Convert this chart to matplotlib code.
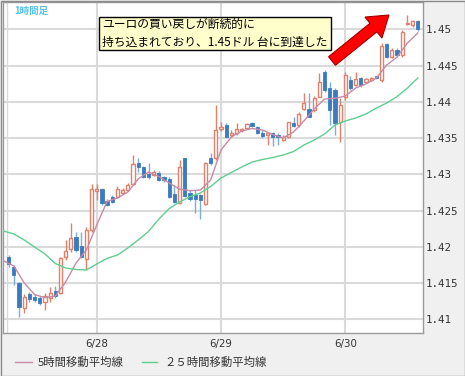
import numpy as np
import matplotlib
matplotlib.use("Agg")
import matplotlib.pyplot as plt
from matplotlib.patches import Rectangle, FancyArrow
from matplotlib.transforms import IdentityTransform
from matplotlib.lines import Line2D

# ---------------- data ----------------
# hourly candles, hour offset relative to 6/28 00:00
hour_start = -17
opens = [1.41864, 1.41726, 1.41505, 1.41160, 1.41349, 1.41308, 1.41298, 1.41243, 1.41298, 1.41390,
         1.41359, 1.41855, 1.41970, 1.42139, 1.42011, 1.41828, 1.42232,
         1.42770, 1.42793, 1.42636, 1.42691, 1.42691, 1.42738, 1.42783, 1.42866, 1.43160, 1.43097,
         1.43004, 1.42990, 1.43014, 1.42959, 1.42931, 1.42728, 1.42608, 1.43221, 1.42738, 1.42710,
         1.42715, 1.42586, 1.43221, 1.43221,
         1.43621, 1.43676, 1.43542, 1.43566, 1.43607, 1.43635, 1.43703, 1.43657, 1.43570, 1.43546,
         1.43566, 1.43542, 1.43473, 1.43510, 1.43703, 1.43680, 1.43896, 1.43896, 1.43887, 1.44070,
         1.44415, 1.44186, 1.44163, 1.43726,
         1.44066, 1.44301, 1.44232, 1.44324, 1.44277, 1.44301, 1.44356, 1.44301, 1.44793, 1.44622,
         1.44714, 1.44646, 1.45073, 1.45059, 1.45119]
highs = [1.41887, 1.41749, 1.41519, 1.41349, 1.41381, 1.41349, 1.41321, 1.41359, 1.41450, 1.41459,
         1.41855, 1.42094, 1.42332, 1.42208, 1.42208, 1.42269, 1.42866,
         1.42866, 1.42807, 1.42655, 1.42715, 1.42839, 1.42807, 1.42876, 1.43266, 1.43221, 1.43114,
         1.43160, 1.43059, 1.43050, 1.42977, 1.42959, 1.42852, 1.43197, 1.43229, 1.42783, 1.42783,
         1.42728, 1.43174, 1.43298, 1.43956,
         1.43726, 1.43703, 1.43611, 1.43703, 1.43635, 1.43703, 1.43721, 1.43666, 1.43611, 1.43576,
         1.43588, 1.43574, 1.43542, 1.43726, 1.43794, 1.43863, 1.44126, 1.44117, 1.44080, 1.44393,
         1.44439, 1.44277, 1.44190, 1.44052,
         1.44411, 1.44356, 1.44411, 1.44346, 1.44324, 1.44342, 1.44363, 1.44807, 1.44807, 1.44738,
         1.44738, 1.44990, 1.45197, 1.45128, 1.45128]
lows = [1.41721, 1.41473, 1.41036, 1.41087, 1.41243, 1.41239, 1.41197, 1.41128, 1.41243, 1.41290,
        1.41349, 1.41818, 1.41932, 1.41932, 1.41841, 1.41680, 1.42208,
        1.42646, 1.42577, 1.42563, 1.42608, 1.42669, 1.42728, 1.42774, 1.42852, 1.43036, 1.42945,
        1.42931, 1.42977, 1.42912, 1.42898, 1.42669, 1.42600, 1.42600, 1.42691, 1.42632, 1.42470,
        1.42379, 1.42577, 1.43128, 1.43197,
        1.43601, 1.43510, 1.43519, 1.43546, 1.43588, 1.43621, 1.43657, 1.43556, 1.43505, 1.43404,
        1.43390, 1.43404, 1.43459, 1.43497, 1.43657, 1.43657, 1.43887, 1.43786, 1.43859, 1.44066,
        1.44139, 1.43680, 1.43542, 1.43450,
        1.44025, 1.44163, 1.44218, 1.44208, 1.44259, 1.44287, 1.44314, 1.44277, 1.44600, 1.44600,
        1.44614, 1.44622, 1.45059, 1.45036, 1.44981]
closes = [1.41763, 1.41611, 1.41170, 1.41312, 1.41280, 1.41266, 1.41221, 1.41326, 1.41359, 1.41326,
          1.41841, 1.41946, 1.42125, 1.41956, 1.41855, 1.42232, 1.42793,
          1.42797, 1.42600, 1.42577, 1.42622, 1.42793, 1.42783, 1.42852, 1.43142, 1.43105, 1.42959,
          1.42967, 1.43032, 1.42921, 1.42921, 1.42683, 1.42618, 1.43097, 1.42701, 1.42655, 1.42663,
          1.42646, 1.43152, 1.43160, 1.43611,
          1.43657, 1.43519, 1.43574, 1.43621, 1.43618, 1.43694, 1.43670, 1.43566, 1.43532, 1.43570,
          1.43510, 1.43519, 1.43519, 1.43717, 1.43666, 1.43832, 1.43979, 1.43794, 1.44048, 1.44277,
          1.44163, 1.43887, 1.43703, 1.43956,
          1.44369, 1.44186, 1.44310, 1.44232, 1.44310, 1.44324, 1.44324, 1.44774, 1.44622, 1.44714,
          1.44646, 1.44967, 1.45091, 1.45119, 1.45000]

# moving averages, every 2 hours from hour -18
ma_start = -18
ma5 = [1.41808, 1.41735, 1.41501, 1.41342, 1.41298, 1.41321, 1.41514, 1.41777, 1.41956, 1.42301,
       1.42625, 1.42673, 1.42756, 1.42935, 1.43032, 1.42970, 1.42880, 1.42797, 1.42774, 1.42783,
       1.42921, 1.43335, 1.43514, 1.43597, 1.43632, 1.43611, 1.43549, 1.43501, 1.43583, 1.43735,
       1.43901, 1.44039, 1.44048, 1.44080, 1.44190, 1.44246, 1.44328, 1.44508, 1.44618, 1.44811,
       1.44949]
ma25 = [1.42218, 1.42177, 1.42094, 1.41997, 1.41901, 1.41770, 1.41708, 1.41687, 1.41680, 1.41763,
        1.41841, 1.41887, 1.41983, 1.42094, 1.42211, 1.42383, 1.42528, 1.42618, 1.42691, 1.42742,
        1.42832, 1.42949, 1.43025, 1.43101, 1.43170, 1.43204, 1.43232, 1.43266, 1.43314, 1.43404,
        1.43473, 1.43556, 1.43680, 1.43735, 1.43777, 1.43832, 1.43914, 1.43983, 1.44073, 1.44190,
        1.44328]

date_labels = ["6/28", "6/29", "6/30"]
date_hours = [0, 24, 48]
ytick_vals = [1.41, 1.415, 1.42, 1.425, 1.43, 1.435, 1.44, 1.445, 1.45]
ytick_labels = ["1.41", "1.415", "1.42", "1.425", "1.43", "1.435", "1.44", "1.445", "1.45"]

title_text = "1時間足"
note_lines = ["ユーロの買い戻しが断続的に", "持ち込まれており、1.45ドル 台に到達した"]
legend_labels = ["5時間移動平均線", "２５時間移動平均線"]

# ---------------- figure ----------------
W, H = 465, 376
DPI = 100
fig = plt.figure(figsize=(W / DPI, H / DPI), dpi=DPI, facecolor="#f0f0f0")

def fx(x):
    return x / W

def fy(y):
    return 1 - y / H

ax_l, ax_r, ax_t, ax_b = 3, 422.7, 2, 333
ax = fig.add_axes([fx(ax_l), fy(ax_b), (ax_r - ax_l) / W, (ax_b - ax_t) / H])
ax.set_facecolor("white")
ax.set_xlim(-18.1, 62.95)
ax.set_ylim(1.40811, 1.45377)

RED = "#e3806a"
BLUE = "#3a7bbf"
BLUE_WICK = "#7badde"

# grid
for v in ytick_vals:
    ax.axhline(v, color="#dadada", lw=1.5, zorder=0)
for h in date_hours:
    ax.axvline(h, color="#dadada", lw=1.5, zorder=0)
ax.axvline(-17.26, color="#dadada", lw=1.0, zorder=0)

idx = np.arange(hour_start, hour_start + len(opens))
O = np.array(opens); Hh = np.array(highs); L = np.array(lows); C = np.array(closes)
up = C >= O
min_h = 0.00012
for i, k in enumerate(idx):
    col = RED if up[i] else BLUE_WICK
    ax.vlines(k, L[i], Hh[i], color=col, lw=1.0, zorder=2)
    lo = min(O[i], C[i])
    hgt = max(abs(C[i] - O[i]), min_h)
    if up[i]:
        ax.bar(k, hgt, bottom=lo, width=0.62, facecolor="white", edgecolor=RED, lw=1.0, zorder=3)
    else:
        ax.bar(k, hgt, bottom=lo, width=0.62, facecolor=BLUE, edgecolor=BLUE, lw=0.6, zorder=3)

ma_x = np.arange(ma_start, ma_start + 2 * len(ma5), 2)
ax.plot(ma_x, ma5, color="#c98aa8", lw=1.0, zorder=4)
ax.plot(ma_x, ma25, color="#5fcf90", lw=1.0, zorder=4)

ax.set_xticks(date_hours)
ax.set_xticklabels(date_labels)
ax.set_yticks(ytick_vals)
ax.set_yticklabels(ytick_labels, family="DejaVu Sans Mono")
ax.yaxis.tick_right()
ax.tick_params(axis="y", length=0, pad=2, labelsize=7.8, labelcolor="#333333")
ax.tick_params(axis="x", length=0, pad=4, labelsize=7.4, labelcolor="#333333")
for s in ax.spines.values():
    s.set_color("#9a9a9a")
    s.set_linewidth(1.0)

# title
fig.text(fx(14), fy(11), title_text, color="#55c3ec", fontsize=6.8,
         family=["Noto Sans CJK JP", "DejaVu Sans"], va="center", ha="left", weight="bold")

# note box
fig.add_artist(Rectangle((fx(99.3), fy(50)), (331 - 99.3) / W, (50 - 16.7) / H,
                         transform=fig.transFigure, facecolor="#ffffcc",
                         edgecolor="black", lw=1.0, zorder=10))
fig.text(fx(102), fy(24.5), note_lines[0], fontsize=8.5, va="center", ha="left",
         family=["Noto Sans CJK JP", "DejaVu Sans"], color="black", zorder=11)
fig.text(fx(102), fy(42.5), note_lines[1], fontsize=8.5, va="center", ha="left",
         family=["Noto Sans CJK JP", "DejaVu Sans"], color="black", zorder=11)

# red arrow (display pixel coords, origin bottom-left)
tail = (332, H - 61)
tip = (389, H - 15)
dx, dy = tip[0] - tail[0], tip[1] - tail[1]
fig.add_artist(FancyArrow(tail[0], tail[1], dx, dy, width=11, head_width=27,
                          head_length=20, length_includes_head=True,
                          transform=IdentityTransform(), facecolor="#ff0000",
                          edgecolor="#a00000", lw=0.8, zorder=12))

# legend
fig.add_artist(Line2D([fx(15), fx(32)], [fy(362), fy(362)], color="#c98aa8", lw=1.0,
                      transform=fig.transFigure))
fig.text(fx(38), fy(362), legend_labels[0], fontsize=8.2, va="center", ha="left",
         family=["Noto Sans CJK JP", "DejaVu Sans"], color="#333333")
fig.add_artist(Line2D([fx(142), fx(157)], [fy(362), fy(362)], color="#5fcf90", lw=1.0,
                      transform=fig.transFigure))
fig.text(fx(164), fy(362), legend_labels[1], fontsize=8.2, va="center", ha="left",
         family=["Noto Sans CJK JP", "DejaVu Sans"], color="#333333")

# outer border
fig.add_artist(Rectangle((0.5 / W, 0.5 / H), (W - 1) / W, (H - 1) / H, transform=fig.transFigure,
                         facecolor="none", edgecolor="#8a8a8a", lw=1.0))

fig.savefig("out.png", dpi=DPI, facecolor=fig.get_facecolor())
